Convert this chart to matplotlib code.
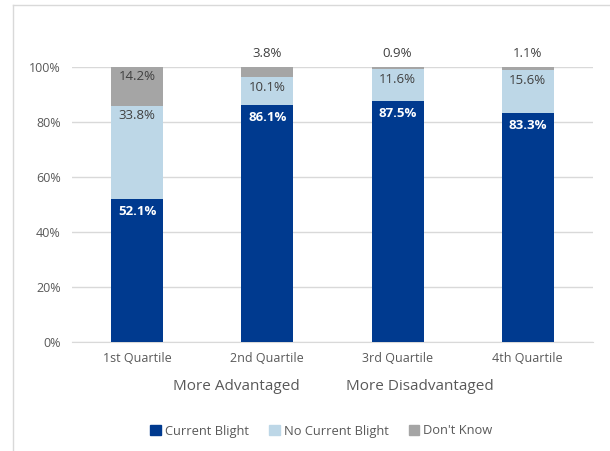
import matplotlib
matplotlib.use("Agg")
import matplotlib.pyplot as plt
from matplotlib.ticker import PercentFormatter
from matplotlib.lines import Line2D
import numpy as np

plt.rcParams['font.family'] = ['Open Sans', 'DejaVu Sans']

quartiles = ['1st Quartile', '2nd Quartile', '3rd Quartile', '4th Quartile']
current_blight = [52.1, 86.1, 87.5, 83.3]
no_current_blight = [33.8, 10.1, 11.6, 15.6]
dont_know = [14.2, 3.8, 0.9, 1.1]
series_names = ['Current Blight', 'No Current Blight', "Don't Know"]
colors = ['#003A8F', '#BDD7E7', '#A5A5A5']

fig = plt.figure(figsize=(6.1, 4.51), dpi=100)
ax = fig.add_axes([0.118, 0.2417, 0.854, 0.6097])

x = np.arange(len(quartiles))
width = 0.4
bottom = np.zeros(len(quartiles))
for i, (vals, name, col) in enumerate(zip([current_blight, no_current_blight, dont_know],
                                          series_names, colors)):
    vals = np.array(vals)
    ax.bar(x, vals, width, bottom=bottom, color=col, label=name, zorder=3)
    for xi, b, v in zip(x, bottom, vals):
        top = b + v
        txt = f'{v:.1f}%'
        if i == 0:
            ax.text(xi, top - 2.2, txt, ha='center', va='top', color='white',
                    fontsize=9.5, fontweight='bold', zorder=4)
        elif v < 5:
            ax.text(xi, top + 2.5, txt, ha='center', va='bottom', color='#404040',
                    fontsize=9.5, zorder=4)
        else:
            ax.text(xi, top - 1.3, txt, ha='center', va='top', color='#404040',
                    fontsize=9.5, zorder=4)
    bottom = bottom + vals

ax.set_xlim(-0.5, 3.5)
ax.set_ylim(0, 100)
ax.set_yticks(np.arange(0, 101, 20))
ax.yaxis.set_major_formatter(PercentFormatter(decimals=0))
ax.set_xticks(x)
ax.set_xticklabels(quartiles)
ax.grid(axis='y', color='#D9D9D9', linewidth=1, zorder=0)
for s in ['top', 'right', 'left']:
    ax.spines[s].set_visible(False)
ax.spines['bottom'].set_color('#D9D9D9')
ax.tick_params(axis='both', length=0, colors='#595959', labelsize=9)
ax.tick_params(axis='y', pad=8)
ax.tick_params(axis='x', pad=7)

fig.text(236 / 610, 1 - 387 / 451, 'More Advantaged', ha='center', va='center',
         fontsize=11, color='#595959')
fig.text(420 / 610, 1 - 387 / 451, 'More Disadvantaged', ha='center', va='center',
         fontsize=11, color='#595959')

handles = [plt.Rectangle((0, 0), 1, 1, color=c) for c in colors]
fig.legend(handles, series_names, loc='center', bbox_to_anchor=(0.527, 1 - 431 / 451),
           ncol=3, frameon=False, fontsize=9.3, handlelength=0.8, handleheight=0.8,
           handletextpad=0.3, columnspacing=1.6, labelcolor='#595959')

# chart border (left and top)
fig.add_artist(Line2D([13 / 610, 13 / 610], [0, 1 - 5 / 451], color='#D9D9D9', lw=1,
                      transform=fig.transFigure))
fig.add_artist(Line2D([13 / 610, 1], [1 - 5 / 451, 1 - 5 / 451], color='#D9D9D9', lw=1,
                      transform=fig.transFigure))

fig.savefig('out.png', dpi=100)
